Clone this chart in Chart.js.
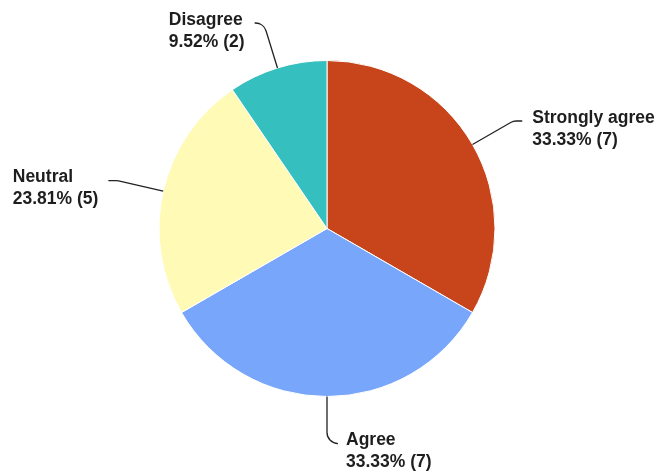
<!DOCTYPE html>
<html><head><meta charset="utf-8">
<script src="https://cdn.jsdelivr.net/npm/chart.js@4/dist/chart.umd.min.js"></script>
<style>html,body{margin:0;padding:0;background:#fff}</style>
</head><body>
<canvas id="c" width="657" height="472"></canvas>
<script>
const categories = ["Strongly agree", "Agree", "Neutral", "Disagree"];
const counts = [7, 7, 5, 2];
const sliceColors = ["#c8441b", "#77a6fb", "#fffbb6", "#36bfbf"];

const total = counts.reduce((a, b) => a + b, 0);

const leaderLabels = {
  id: 'leaderLabels',
  afterDatasetsDraw(chart) {
    const ctx = chart.ctx;
    const meta = chart.getDatasetMeta(0);
    ctx.save();
    ctx.font = 'bold 17.5px "Liberation Sans", Arial, sans-serif';
    meta.data.forEach((arc, i) => {
      const p = arc.getProps(['x', 'y', 'startAngle', 'endAngle', 'outerRadius'], true);
      const mid = (p.startAngle + p.endAngle) / 2;
      const dx = Math.cos(mid), dy = Math.sin(mid);
      const R = p.outerRadius;
      const sx = p.x + dx * R, sy = p.y + dy * R;
      const ex0 = p.x + dx * R * 1.28, ey = p.y + dy * R * 1.28;
      const right = dx >= -1e-6;
      const ex = ex0 + (right ? 9 : -9);
      ctx.beginPath();
      ctx.strokeStyle = '#222';
      ctx.lineWidth = 1.3;
      ctx.moveTo(sx, sy);
      ctx.arcTo(ex0, ey, ex, ey, 11);
      ctx.lineTo(ex, ey);
      ctx.stroke();
      const l1 = categories[i];
      const l2 = (counts[i] / total * 100).toFixed(2) + '% (' + counts[i] + ')';
      const w = Math.max(ctx.measureText(l1).width, ctx.measureText(l2).width);
      const tx = right ? ex + 10 : ex - 10 - w;
      ctx.fillStyle = '#1e1e1e';
      ctx.textAlign = 'left';
      ctx.textBaseline = 'middle';
      ctx.fillText(l1, tx, ey - 3);
      ctx.fillText(l2, tx, ey + 19);
    });
    ctx.restore();
  }
};

new Chart(document.getElementById('c'), {
  type: 'pie',
  data: {
    labels: categories,
    datasets: [{
      data: counts,
      backgroundColor: sliceColors,
      borderColor: '#ffffff',
      borderWidth: 1
    }]
  },
  options: {
    responsive: false,
    animation: false,
    layout: { padding: { top: 60, bottom: 75, left: 100, right: 103 } },
    plugins: { legend: { display: false }, tooltip: { enabled: false } }
  },
  plugins: [leaderLabels]
});
</script>
</body></html>
